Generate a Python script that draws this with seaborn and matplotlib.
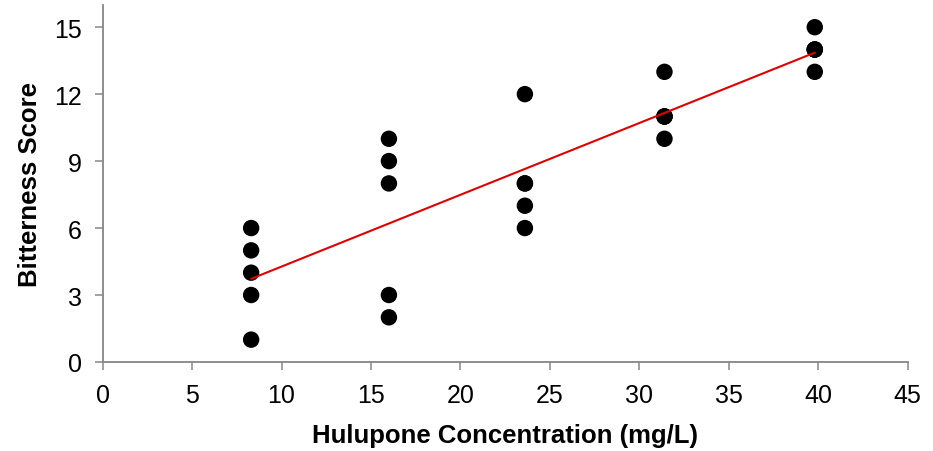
import numpy as np
import pandas as pd
import matplotlib
matplotlib.use("Agg")
import matplotlib.pyplot as plt
import seaborn as sns

# Hulupone concentration (mg/L) per tasting and the bitterness score given
conc_levels = [8.3, 16.0, 23.6, 31.4, 39.8]
scores_8 = [1, 3, 4, 5, 6]
scores_16 = [2, 3, 8, 9, 10]
scores_24 = [6, 7, 8, 8, 12]
scores_31 = [10, 11, 11, 13, 11]
scores_40 = [13, 14, 14, 15, 14]

all_scores = [scores_8, scores_16, scores_24, scores_31, scores_40]
df = pd.DataFrame({
    "conc": np.repeat(conc_levels, [len(s) for s in all_scores]),
    "score": np.concatenate(all_scores),
})

sns.set_style("white")
plt.rcParams["font.family"] = ["Liberation Sans", "DejaVu Sans"]

fig = plt.figure(figsize=(9.33, 4.52), dpi=100)
ax = fig.add_axes([0.110, 0.197, 0.863, 0.790])

sns.regplot(data=df, x="conc", y="score", ax=ax, ci=None,
            scatter_kws=dict(s=140, color="black", edgecolor="none", alpha=1),
            line_kws=dict(color="#e00000", lw=1.5))

ax.set_xlim(0, 45)
ax.set_ylim(0, 16)
ax.set_xticks(range(0, 46, 5))
ax.set_yticks(range(0, 16, 3))

grey = "#868686"
for side in ["top", "right"]:
    ax.spines[side].set_visible(False)
for side in ["left", "bottom"]:
    ax.spines[side].set_color(grey)
    ax.spines[side].set_linewidth(1.3)
ax.tick_params(axis="both", direction="out", length=6, width=1.1, color=grey,
               labelsize=18, pad=9, labelcolor="black")
ax.tick_params(axis="both", which="both", bottom=True, left=True)

ax.set_xlabel("Hulupone Concentration (mg/L)", fontsize=18.5, fontweight="bold",
              labelpad=12, color="black")
ax.set_ylabel("Bitterness Score", fontsize=18.5, fontweight="bold",
              labelpad=9, color="black")

fig.savefig("out.png", dpi=100)
